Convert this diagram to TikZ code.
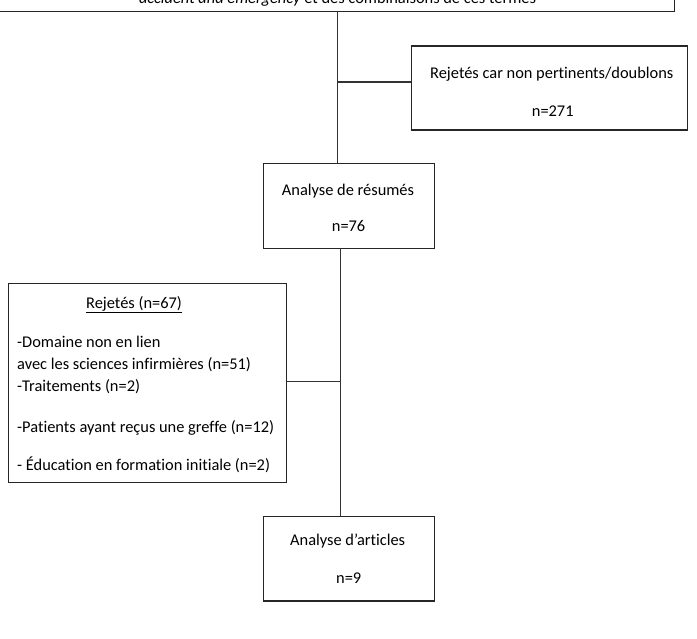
\documentclass[tikz,border=0pt]{standalone}
\usepackage{fontspec}
\setmainfont{Carlito}[Ligatures=NoCommon]
\begin{document}
\begin{tikzpicture}[x=1pt,y=-1pt,
  box/.style={draw=black!85,line width=1.3pt,inner sep=0pt,anchor=north west},
  txt/.style={inner sep=0pt,anchor=base west,font=\fontsize{16.4}{19}\selectfont},
  link/.style={draw=black!80,line width=1.2pt}]
\clip (0,0) rectangle (697,639);
% boxes
\node[box,minimum width=690pt,minimum height=60pt] (top) at (-16,-49) {};
\node[box,minimum width=276pt,minimum height=84pt] (rej1) at (411,45.5) {};
\node[box,minimum width=171pt,minimum height=85pt] (res) at (262.5,163) {};
\node[box,minimum width=278pt,minimum height=199pt] (rej2) at (8,283) {};
\node[box,minimum width=171pt,minimum height=84.5pt] (art) at (262.5,515.7) {};
% texts
\node[txt,anchor=base] (t0) at (337.5,3.5) {\itshape accident and emergency\upshape{} et des combinaisons de ces termes};
\node[txt] (t1) at (430,78.3) {Rejetés car non pertinents/doublons};
\node[txt] (t2) at (531.7,117) {n=271};
\node[txt] (t3) at (281.7,196) {Analyse de résumés};
\node[txt] (t4) at (331.7,232) {n=76};
\node[txt] (t5) at (86,308.3) {\underline{Rejetés (n=67)}};
\node[txt] (t6) at (17,347.3) {-Domaine non en lien};
\node[txt] (t7) at (17,370) {avec les sciences infirmières (n=51)};
\node[txt] (t8) at (17,391.7) {-Traitements (n=2)};
\node[txt] (t9) at (17,432) {-Patients ayant reçus une greffe (n=12)};
\node[txt] (t10) at (17,470) {- Éducation en formation initiale (n=2)};
\node[txt] (t11) at (290,545.7) {Analyse d’articles};
\node[txt] (t12) at (336,583) {n=9};
% connectors
\coordinate (v1) at (337.7,11);
\coordinate (b1) at (337.7,82);
\coordinate (v2) at (340.5,248);
\coordinate (b2) at (340.5,381.5);
\draw[link] (v1) -- (v1 |- res.north);
\draw[link] (b1) -- (b1 -| rej1.west);
\draw[link] (v2) -- (v2 |- art.north);
\draw[link] (b2) -- (b2 -| rej2.east);
\end{tikzpicture}
\end{document}
